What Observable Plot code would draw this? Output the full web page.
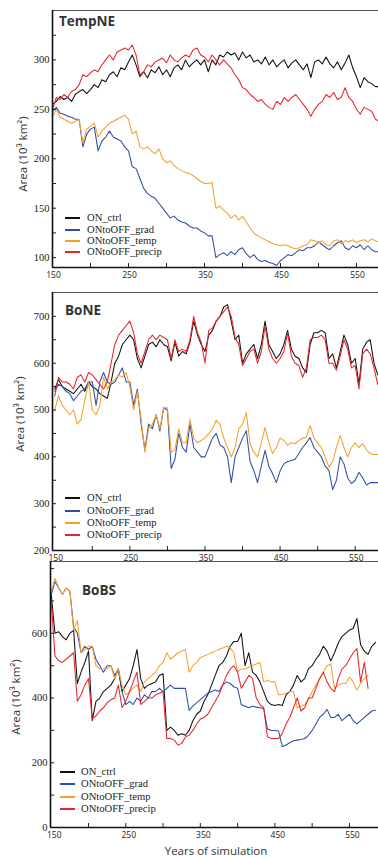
<!DOCTYPE html>
<html><head><meta charset="utf-8">
<script src="https://cdn.jsdelivr.net/npm/d3@7"></script>
<script src="https://cdn.jsdelivr.net/npm/@observablehq/plot@0.6"></script>
<style>
body{margin:0;background:#fff;}
#wrap{position:relative;width:378px;height:857px;overflow:hidden;background:#fff;}
.panel{position:absolute;left:0;}
.panel svg{overflow:visible;}
.title{position:absolute;font-family:"Open Sans",sans-serif;font-weight:700;font-size:13.5px;color:#333;line-height:1;}
.ylab{position:absolute;font-family:"Open Sans",sans-serif;font-size:11.5px;color:#333;white-space:nowrap;transform:translate(-50%,-50%) rotate(-90deg);line-height:1;}
.xlab{position:absolute;font-family:"Open Sans",sans-serif;font-size:11.5px;color:#333;white-space:nowrap;transform:translate(-50%,-50%);line-height:1;}
.leg{position:absolute;display:flex;align-items:center;height:10px;font-family:"Liberation Serif",serif;font-size:10.6px;line-height:10px;color:#222;white-space:nowrap;}
.leg span.sw{display:inline-block;width:15px;height:2px;}
</style>
</head><body>
<div id="wrap"></div>
<script>
// ---------- data ----------
const years = [150,155,160,165,170,175,180,185,190,195,200,205,210,215,220,225,230,235,240,245,250,255,260,265,270,275,280,285,290,295,300,305,310,315,320,325,330,335,340,345,350,355,360,365,370,375,380,385,390,395,400,405,410,415,420,425,430,435,440,445,450,455,460,465,470,475,480,485,490,495,500,505,510,515,520,525,530,535,540,545,550,555,560,565,570,575,580,585];

const seriesNames = ["ON_ctrl","ONtoOFF_grad","ONtoOFF_temp","ONtoOFF_precip"];
const seriesColors = ["#111111","#2d4fa6","#f6a02c","#e8242b"];

// TempNE
const tne_ctrl = [255,258,263,260,262,258,265,268,270,266,
 270,275,272,280,278,285,288,283,292,290,
 298,305,295,283,288,282,290,287,293,285,
 290,283,292,295,290,300,293,297,300,295,
 300,288,300,295,305,303,308,305,307,300,
 308,302,305,298,300,296,303,295,300,293,
 297,300,292,297,300,295,290,296,282,298,
 300,296,303,296,292,298,290,297,305,292,
 283,272,282,278,276,273,273,273];
const tne_grad = [248,252,246,245,243,242,240,240,212,225,
 230,232,208,218,222,228,222,220,218,212,
 208,192,190,180,170,165,162,160,155,150,
 145,140,142,138,136,135,132,130,130,127,
 125,122,122,100,103,105,102,106,103,108,
 110,104,100,103,98,96,97,95,94,92,
 97,100,103,102,105,108,107,110,110,112,
 116,113,110,108,112,115,117,110,108,112,
 110,113,108,112,108,106,106,106];
const tne_temp = [243,250,242,240,238,236,238,240,216,230,
 233,236,222,228,232,236,238,240,242,244,
 240,225,228,212,210,212,208,205,210,200,
 196,198,193,190,188,186,185,183,180,177,
 175,175,176,150,152,148,145,140,143,138,
 142,136,130,125,122,120,118,116,114,113,
 112,113,112,110,109,110,112,113,118,117,
 115,117,113,112,117,118,114,117,116,118,
 115,117,118,116,119,117,116,116];
const tne_precip = [250,262,260,265,262,268,270,275,285,283,
 287,290,288,295,300,305,300,308,310,312,
 310,315,305,285,288,295,293,298,300,302,
 297,305,300,298,302,305,303,310,312,305,
 303,298,305,300,295,300,296,292,285,280,
 272,270,265,262,258,260,255,252,250,258,
 255,262,258,262,265,260,255,250,243,250,
 255,258,265,262,267,260,262,272,262,258,
 250,245,252,250,248,240,238,238];

// BoNE
const bne_ctrl = [545,565,550,545,540,535,545,555,540,560,
 550,545,535,530,525,560,600,615,640,650,
 660,650,610,590,615,640,645,635,650,640,
 635,605,645,615,625,620,645,690,660,640,
 625,660,670,690,700,720,725,690,650,660,
 600,620,630,640,610,640,690,640,625,610,
 620,640,670,630,615,610,590,580,640,665,
 665,670,665,610,620,590,625,660,640,600,
 610,555,630,645,650,600,575,575];
const bne_grad = [540,555,550,540,535,520,530,540,545,560,
 560,510,560,580,560,555,560,575,590,560,
 560,510,545,470,415,470,460,490,455,505,
 500,375,395,450,420,410,470,420,410,400,
 400,420,440,450,425,420,400,345,400,420,
 440,456,390,371,345,380,414,380,364,345,
 370,385,390,392,395,407,420,430,441,420,
 410,400,380,371,330,350,400,385,355,343,
 350,367,355,340,345,345,345,345];
const bne_temp = [500,530,510,500,490,500,470,480,520,560,
 500,490,510,570,545,560,565,575,570,580,
 550,500,540,480,410,460,470,490,460,505,
 505,410,415,460,430,430,480,440,430,435,
 440,450,460,478,470,440,420,400,420,460,
 470,495,428,410,400,430,463,430,407,420,
 440,435,425,430,428,435,440,442,467,440,
 430,420,400,378,390,420,446,420,400,420,
 430,420,428,415,407,405,405,405];
const bne_precip = [530,570,560,560,555,545,570,575,560,580,
 575,565,555,545,560,600,640,660,670,680,
 690,665,620,600,625,650,660,650,660,655,
 650,610,650,625,630,625,650,700,665,645,
 600,670,675,690,700,710,720,700,655,640,
 595,610,625,630,600,625,680,630,610,600,
 610,625,665,615,600,595,570,590,650,655,
 655,660,650,600,600,585,615,650,630,590,
 595,545,620,630,620,590,555,545];

// BoBS
const bbs_ctrl = [720,600,605,590,580,600,610,445,480,510,
 545,330,390,400,420,430,440,460,490,420,
 440,460,500,550,460,430,440,445,450,470,
 475,300,310,300,285,290,285,300,330,350,
 360,390,410,440,470,500,510,530,560,575,
 575,600,500,540,480,470,450,420,390,380,
 377,380,377,410,420,440,470,450,460,490,
 500,520,535,560,545,515,540,570,590,600,
 610,615,646,565,545,535,560,572];
const bbs_grad = [720,760,740,720,740,730,620,600,540,560,
 550,560,520,500,480,500,500,470,490,420,
 380,390,380,400,390,410,400,420,420,430,
 420,430,440,430,430,430,430,362,375,385,
 395,405,415,420,425,420,440,450,445,435,
 430,380,375,370,375,372,370,368,305,300,
 300,298,250,255,262,268,270,272,275,285,
 300,320,340,350,365,340,340,350,330,340,
 350,330,320,330,340,350,360,362];
const bbs_temp = [730,770,740,720,740,730,610,640,540,550,
 560,560,500,490,490,490,500,460,490,440,
 410,420,430,440,420,450,460,470,480,500,
 510,540,520,530,540,545,550,480,500,510,
 525,530,535,540,545,550,555,560,555,540,
 480,490,490,495,500,505,510,450,455,450,
 450,410,412,415,420,420,370,375,380,395,
 420,440,460,480,500,505,430,440,445,445,
 465,450,425,445,460,470,null,null];
const bbs_precip = [700,530,515,510,520,530,540,390,410,440,
 460,335,345,360,370,385,395,400,440,370,
 390,420,450,480,380,390,400,400,410,415,
 420,275,275,270,255,260,280,285,300,320,
 335,340,350,370,390,410,440,470,490,500,
 480,430,450,470,460,400,380,370,280,275,
 275,275,290,320,340,370,400,360,370,400,
 400,430,460,480,450,430,420,460,490,500,
 520,540,553,450,510,430,null,null];

// ticks
const xTickMarks = [200,250,300,350,400,450,500,550];
const xTickLabels = [150,250,350,450,550];
const tneYMinor = [100,125,150,175,200,225,250,275,300,325];
const tneYLabels = [100,150,200,250,300];
const bneYMinor = [250,300,350,400,450,500,550,600,650,700];
const bneYLabels = [200,300,400,500,600,700];
const bbsYMinor = [100,200,300,400,500,600,700,800];
const bbsYLabels = [0,200,400,600];

// ---------- build ----------
function rows(arrs){
  const out = [];
  arrs.forEach((vals,k) => vals.forEach((v,i) => {
    if (v != null) out.push({year: years[i], value: v, series: seriesNames[k]});
  }));
  return out;
}

function makePanel(cfg){
  const {data, xdom, ydom, yMinor, yLabels, ml, mt, mb, height} = cfg;
  return Plot.plot({
    width: 378, height,
    marginLeft: ml, marginRight: 0, marginTop: mt, marginBottom: mb,
    x: {domain: xdom}, y: {domain: ydom},
    color: {domain: seriesNames, range: seriesColors},
    style: {background: "transparent", overflow: "visible"},
    marks: [
      Plot.line(data, {x: "year", y: "value", z: "series", stroke: "series", strokeWidth: 1.05, clip: true}),
      Plot.ruleY([ydom[1]], {stroke: "#555", strokeWidth: 1}),
      Plot.axisY(yMinor, {tickSize: 4, dx: 4, tickFormat: () => "", label: null, stroke: "#222"}),
      Plot.axisX(xTickMarks, {tickSize: 4, dy: -4, tickFormat: () => "", label: null, stroke: "#222"}),
      Plot.axisY(yLabels, {tickSize: 0, tickPadding: 3, label: null, fontFamily: "Liberation Serif", fontSize: 10.5, fill: "#222"}),
      Plot.axisX(xTickLabels, {tickSize: 0, tickPadding: 4, label: null, fontFamily: "Open Sans", fontSize: 8.5, fill: "#222", dx: cfg.xlabDx}),
      Plot.ruleX([xdom[0]], {stroke: "#111", strokeWidth: 1.6}),
      Plot.ruleY([ydom[0]], {stroke: "#111", strokeWidth: 1.6})
    ]
  });
}

const wrap = document.getElementById("wrap");

const panels = [
  {top: 0, height: 285, mt: 10, mb: 18, ml: 52, xdom: [150, 579], ydom: [90, 350], xlabDx: 1,
   yMinor: tneYMinor, yLabels: tneYLabels, data: rows([tne_ctrl, tne_grad, tne_temp, tne_precip]),
   title: "TempNE", titlePos: [59, 15], ylabPos: [23, 154], legX: 65, legText: 87, legY: [218, 230, 241, 252]},
  {top: 285, height: 275, mt: 7, mb: 10, ml: 52, xdom: [147, 581], ydom: [200, 751], xlabDx: 1,
   yMinor: bneYMinor, yLabels: bneYLabels, data: rows([bne_ctrl, bne_grad, bne_temp, bne_precip]),
   title: "BoNE", titlePos: [65, 304], ylabPos: [20, 414], legX: 65, legText: 87, legY: [498, 511, 523, 535]},
  {top: 555, height: 302, mt: 6, mb: 30, ml: 50, xdom: [149, 589], ydom: [0, 822], xlabDx: 3,
   yMinor: bbsYMinor, yLabels: bbsYLabels, data: rows([bbs_ctrl, bbs_grad, bbs_temp, bbs_precip]),
   title: "BoBS", titlePos: [82, 584], ylabPos: [16, 697], legX: 60, legText: 81, legY: [772, 784, 797, 809]}
];

panels.forEach(p => {
  const div = document.createElement("div");
  div.className = "panel";
  div.style.top = p.top + "px";
  div.appendChild(makePanel(p));
  wrap.appendChild(div);

  const t = document.createElement("div");
  t.className = "title";
  t.style.left = p.titlePos[0] + "px";
  t.style.top = p.titlePos[1] + "px";
  t.textContent = p.title;
  wrap.appendChild(t);

  const yl = document.createElement("div");
  yl.className = "ylab";
  yl.style.left = p.ylabPos[0] + "px";
  yl.style.top = p.ylabPos[1] + "px";
  yl.textContent = "Area (10³ km²)";
  wrap.appendChild(yl);

  seriesNames.forEach((name, k) => {
    const row = document.createElement("div");
    row.className = "leg";
    row.style.left = p.legX + "px";
    row.style.top = (p.legY[k] - 5) + "px";
    const sw = document.createElement("span");
    sw.className = "sw";
    sw.style.background = seriesColors[k];
    sw.style.marginRight = (p.legText - p.legX - 15) + "px";
    row.appendChild(sw);
    const tx = document.createElement("span");
    tx.textContent = name;
    row.appendChild(tx);
    wrap.appendChild(row);
  });
});

const xl = document.createElement("div");
xl.className = "xlab";
xl.style.left = "216px";
xl.style.top = "851px";
xl.textContent = "Years of simulation";
wrap.appendChild(xl);
</script>
</body></html>
